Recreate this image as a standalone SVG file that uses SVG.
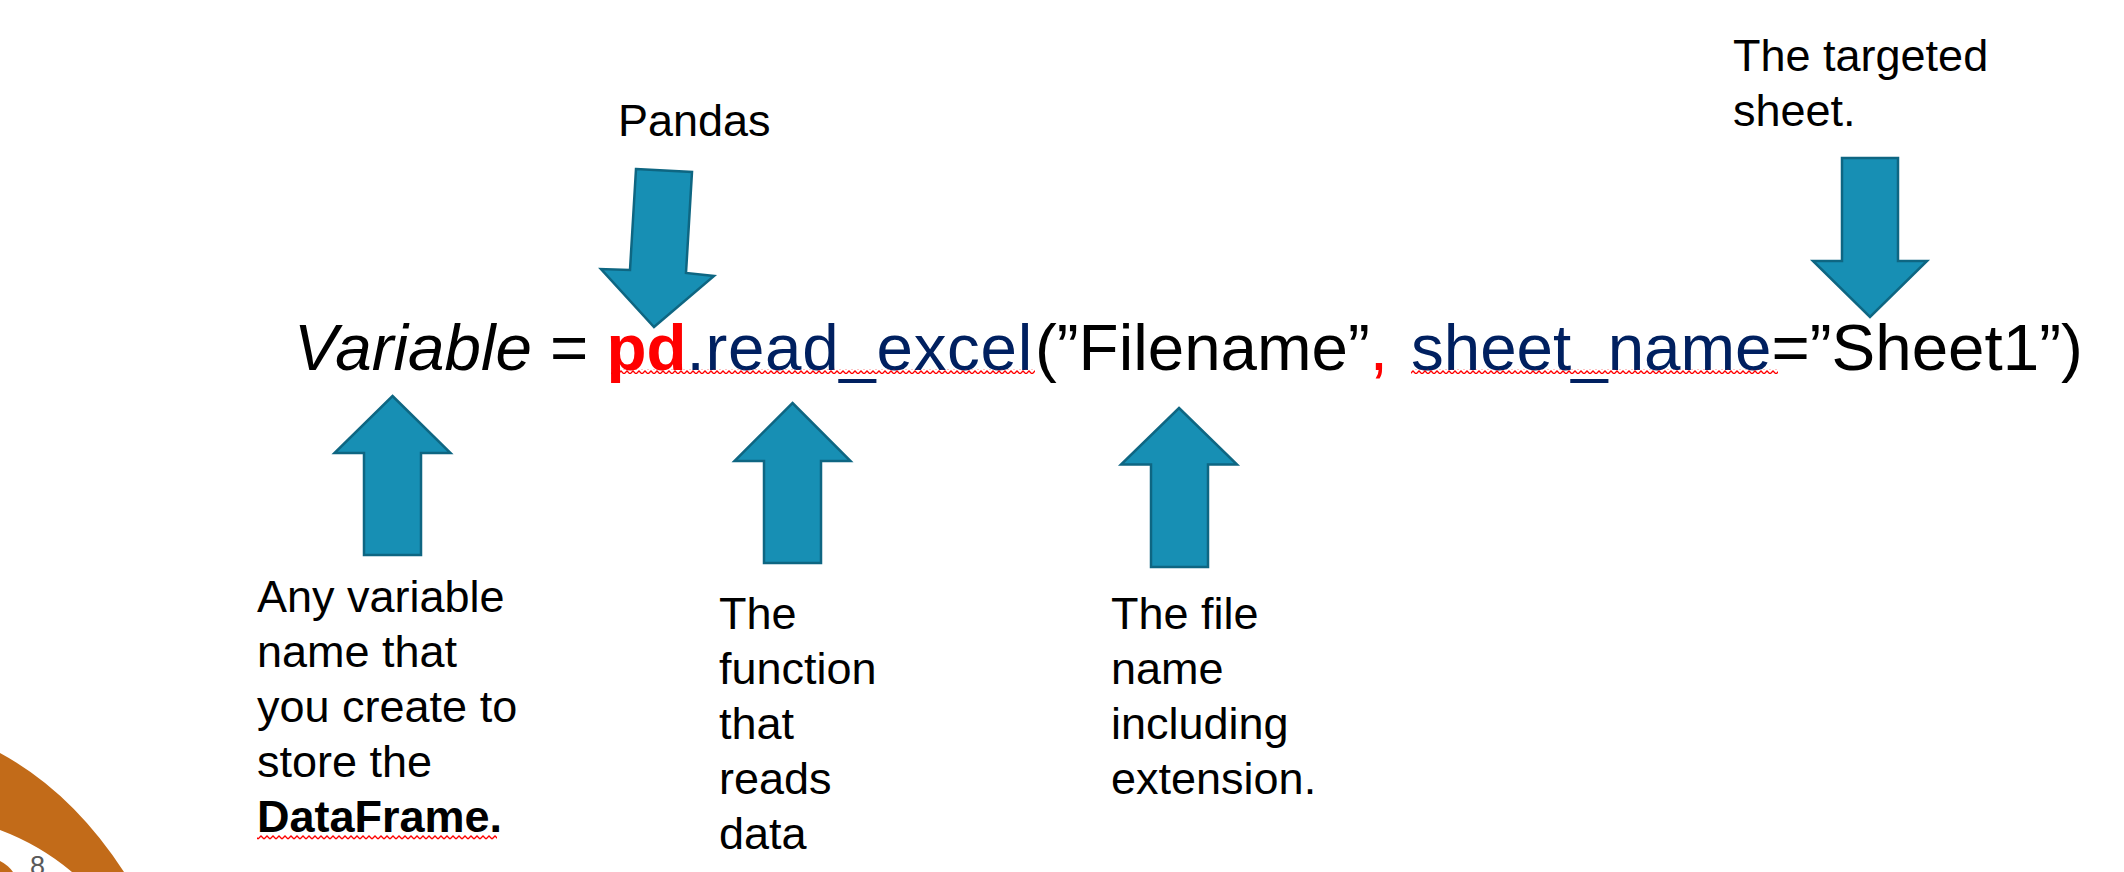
<svg xmlns="http://www.w3.org/2000/svg" width="2124" height="872" viewBox="0 0 2124 872">
<style>
text{font-family:"Liberation Sans",Arial,sans-serif;}
.lbl{font-size:45px;fill:#000;}
.code{font-size:65.5px;fill:#000;}
.navy{fill:#002060;}
.red{fill:#FF0000;}
.arrow{fill:#178FB4;stroke:#0E6682;stroke-width:2.5;stroke-linejoin:miter;}
</style>
<defs>
<pattern id="sq" width="6" height="5" patternUnits="userSpaceOnUse">
<path d="M0,4 L3,1 L6,4" fill="none" stroke="#FF0000" stroke-width="1.3"/>
</pattern>
</defs>
<rect width="2124" height="872" fill="#FFFFFF"/>
<g id="decor">
<path d="M0,753 Q72,792 124,872 L72,872 Q40,845 0,830 Z" fill="#C26B19"/>
<path d="M0,861 Q8,865 13,872 L0,872 Z" fill="#C26B19"/>
<text x="30" y="875" style="font-size:27px;fill:#595959;">8</text>
</g>
<g id="code-line">
<text class="code" y="370"><tspan x="294" font-style="italic">Variable</tspan> = <tspan class="red" font-weight="bold">pd</tspan><tspan class="navy" letter-spacing="0.7">.read_excel</tspan><tspan x="1035">(”Filename”</tspan><tspan class="red">,</tspan><tspan x="1411" class="navy">sheet_name</tspan>=”Sheet1”)</text>
<rect x="611" y="369" width="424" height="5" fill="url(#sq)"/>
<rect x="1411" y="369" width="367" height="5" fill="url(#sq)"/>
</g>
<g id="label-pandas">
<text class="lbl" x="618" y="135.5">Pandas</text>
</g>
<g id="label-sheet">
<text class="lbl" x="1733" y="70.5">The targeted</text>
<text class="lbl" x="1733" y="126">sheet.</text>
</g>
<g id="label-variable">
<text class="lbl" x="257" y="612">Any variable</text>
<text class="lbl" x="257" y="667">name that</text>
<text class="lbl" x="257" y="722">you create to</text>
<text class="lbl" x="257" y="777">store the</text>
<text class="lbl" x="257" y="832" font-weight="bold">DataFrame.</text>
<rect x="257" y="835" width="240" height="5" fill="url(#sq)"/>
</g>
<g id="label-function">
<text class="lbl" x="719" y="628.5">The</text>
<text class="lbl" x="719" y="684">function</text>
<text class="lbl" x="719" y="739">that</text>
<text class="lbl" x="719" y="794">reads</text>
<text class="lbl" x="719" y="849">data</text>
</g>
<g id="label-filename">
<text class="lbl" x="1111" y="628.5">The file</text>
<text class="lbl" x="1111" y="684">name</text>
<text class="lbl" x="1111" y="739">including</text>
<text class="lbl" x="1111" y="794">extension.</text>
</g>
<g id="connectors">
<polygon class="arrow" points="636,169 692,172 686,273 714,276 654,327 601,269 630,270"/>
<polygon class="arrow" points="1842,158 1898,158 1898,261 1927,261 1870,317 1813,261 1842,261"/>
<polygon class="arrow" points="392.5,396 450.5,453 421,453 421,555 364,555 364,453 334.5,453"/>
<polygon class="arrow" points="792.5,403 850.5,461 821,461 821,563 764,563 764,461 734.5,461"/>
<polygon class="arrow" points="1179,408 1237,464.5 1208,464.5 1208,567 1151,567 1151,464.5 1121,464.5"/>
</g>
</svg>
